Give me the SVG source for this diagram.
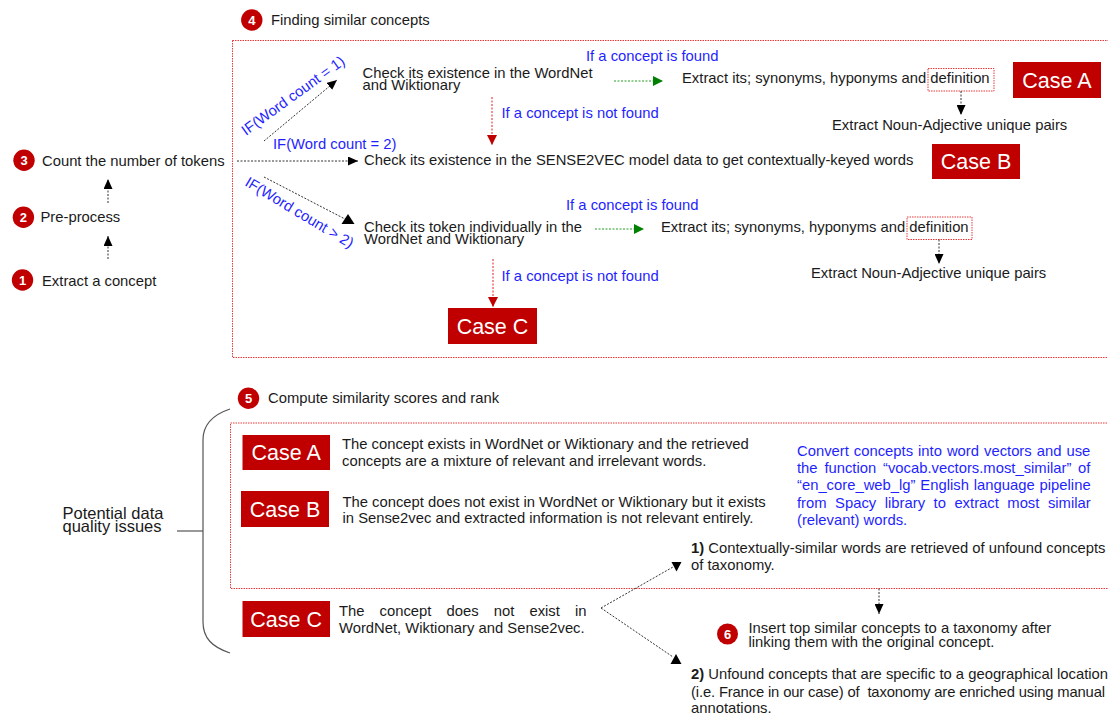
<svg xmlns="http://www.w3.org/2000/svg" width="1108" height="720" viewBox="0 0 1108 720">
<defs>
<style>
text { font-family: "Liberation Sans", Arial, sans-serif; font-size: 14.8px; fill: #1a1a1a; }
.blue { fill: #1f1fff; }
.case { fill: #ffffff; font-size: 21.5px; text-anchor: middle; }
.casebox { fill: #c00000; }
.num { fill: #ffffff; font-weight: bold; font-size: 13px; text-anchor: middle; }
.dot { fill: #c00000; }
.frame { fill: none; stroke: #e83a3a; stroke-width: 1; stroke-dasharray: 1.5 1; }
.conn { fill: none; stroke: #333333; stroke-width: 1; stroke-dasharray: 2 1.5; }
.conn.red { stroke: #e02020; }
.conn.green { stroke: #22a022; }
.brace { fill: none; stroke: #555555; stroke-width: 1.2; }
.head { fill: #000000; }
</style>
<marker id="ab" viewBox="0 0 10 10" refX="10" refY="5" markerWidth="10" markerHeight="9" markerUnits="userSpaceOnUse" orient="auto" preserveAspectRatio="none"><path d="M0,0 L10,5 L0,10 z" fill="#000000"/></marker>
<marker id="ar" viewBox="0 0 10 10" refX="10" refY="5" markerWidth="10" markerHeight="10" markerUnits="userSpaceOnUse" orient="auto" preserveAspectRatio="none"><path d="M0,0 L10,5 L0,10 z" fill="#c00000"/></marker>
<marker id="ag" viewBox="0 0 10 10" refX="10" refY="5" markerWidth="10" markerHeight="10" markerUnits="userSpaceOnUse" orient="auto" preserveAspectRatio="none"><path d="M0,0 L10,5 L0,10 z" fill="#008000"/></marker>
</defs>
<rect x="0" y="0" width="1108" height="720" fill="#ffffff"/>

<g id="step1">
<circle class="dot" cx="22.5" cy="280" r="10.7"/>
<text class="num" x="22.5" y="284.7">1</text>
<text x="42" y="285.5">Extract a concept</text>
</g>
<g id="step2">
<circle class="dot" cx="23.4" cy="217.3" r="10.7"/>
<text class="num" x="23.4" y="222">2</text>
<text x="40.5" y="222">Pre-process</text>
</g>
<g id="step3">
<circle class="dot" cx="24" cy="160.3" r="10.7"/>
<text class="num" x="24" y="165">3</text>
<text x="42" y="165.5">Count the number of tokens</text>
</g>

<g id="step4">
<rect class="frame" x="232.5" y="40.5" width="880" height="317"/>
<circle class="dot" cx="251.8" cy="20" r="10.7"/>
<text class="num" x="251.8" y="24.7">4</text>
<text x="271" y="25">Finding similar concepts</text>
</g>

<g id="check-wordnet">
<text x="362.5" y="77.5">Check its existence in the WordNet<tspan x="362.5" dy="12.5">and Wiktionary</tspan></text>
</g>
<g id="check-sense2vec">
<text x="364" y="164.5">Check its existence in the SENSE2VEC model data to get contextually-keyed words</text>
</g>
<g id="check-tokens">
<text x="364" y="231.5">Check its token individually in the<tspan x="364" dy="12.5">WordNet and Wiktionary</tspan></text>
</g>
<g id="extract-1">
<text x="682" y="83">Extract its; synonyms, hyponyms and definition</text>
<rect class="frame" x="928" y="68.5" width="66" height="22.5"/>
</g>
<g id="pairs-1">
<text x="832" y="130">Extract Noun-Adjective unique pairs</text>
</g>
<g id="extract-2">
<text x="661" y="232">Extract its; synonyms, hyponyms and definition</text>
<rect class="frame" x="907" y="217" width="65" height="22.5"/>
</g>
<g id="pairs-2">
<text x="811" y="278">Extract Noun-Adjective unique pairs</text>
</g>
<g id="caseA-top">
<rect class="casebox" x="1013" y="62" width="88" height="36"/>
<text class="case" x="1057" y="87.7">Case A</text>
</g>
<g id="caseB-top">
<rect class="casebox" x="932" y="144" width="88" height="35"/>
<text class="case" x="976" y="169.2">Case B</text>
</g>
<g id="caseC-top">
<rect class="casebox" x="448" y="308" width="89" height="36"/>
<text class="case" x="492.5" y="333.7">Case C</text>
</g>

<g id="step5">
<circle class="dot" cx="248.5" cy="398.3" r="10.7"/>
<text class="num" x="248.5" y="403">5</text>
<text x="268" y="403.3">Compute similarity scores and rank</text>
<rect class="frame" x="230.5" y="423" width="882" height="165.5"/>
</g>
<g id="issues">
<text x="62.5" y="518.5" style="font-size:16.5px">Potential data<tspan x="62.5" dy="13">quality issues</tspan></text>
<path class="brace" d="M230,409 C212,415 203,425 203,440 L203,622 C203,638 212,647 230,653"/>
<path class="brace" d="M177,531 L203,531"/>
</g>
<g id="caseA-issue">
<rect class="casebox" x="242.5" y="435" width="87.5" height="35"/>
<text class="case" x="286.2" y="460.2">Case A</text>
<text x="342" y="449">The concept exists in WordNet or Wiktionary and the retrieved<tspan x="342" dy="17">concepts are a mixture of relevant and irrelevant words.</tspan></text>
</g>
<g id="caseB-issue">
<rect class="casebox" x="241" y="491" width="88" height="36"/>
<text class="case" x="285" y="516.7">Case B</text>
<text x="342.5" y="506.5">The concept does not exist in WordNet or Wiktionary but it exists<tspan x="342.5" dy="16.8">in Sense2vec and extracted information is not relevant entirely.</tspan></text>
</g>
<g id="caseC-issue">
<rect class="casebox" x="242.5" y="601" width="87.5" height="36"/>
<text class="case" x="286.2" y="626.7">Case C</text>
<text x="339" y="616"><tspan word-spacing="11">The concept does not exist in</tspan><tspan x="339" dy="17.3">WordNet, Wiktionary and Sense2vec.</tspan></text>
</g>
<g id="vectors">
<text class="blue" x="797" y="456"><tspan word-spacing="0.9">Convert concepts into word vectors and use</tspan><tspan x="797" dy="17.2" word-spacing="2.7">the function “vocab.vectors.most_similar” of</tspan><tspan x="797" dy="17.2" word-spacing="0.8">“en_core_web_lg” English language pipeline</tspan><tspan x="797" dy="17.2" word-spacing="4.4">from Spacy library to extract most similar</tspan><tspan x="797" dy="17.2">(relevant) words.</tspan></text>
</g>
<g id="option1">
<text x="691" y="552.5"><tspan font-weight="bold">1)</tspan> Contextually-similar words are retrieved of unfound concepts<tspan x="691" dy="17.5">of taxonomy.</tspan></text>
</g>
<g id="step6">
<circle class="dot" cx="727.5" cy="634" r="10.5"/>
<text class="num" x="727.5" y="638.7">6</text>
<text x="748.5" y="633">Insert top similar concepts to a taxonomy after<tspan x="748.5" dy="13.5">linking them with the original concept.</tspan></text>
</g>
<g id="option2">
<text x="691" y="679" style="white-space:pre"><tspan font-weight="bold">2)</tspan> Unfound concepts that are specific to a geographical location<tspan x="691" dy="17.5" textLength="414" lengthAdjust="spacing">(i.e. France in our case) of  taxonomy are enriched using manual</tspan><tspan x="691" dy="16.5">annotations.</tspan></text>
</g>

<g id="connectors">
<path class="conn" d="M108,259 L108,236" marker-end="url(#ab)"/>
<path class="conn" d="M108,203 L108,179" marker-end="url(#ab)"/>
<path class="conn" d="M237,161 L358,161" marker-end="url(#ab)"/>
<path class="conn" d="M264,141 L337,80" marker-end="url(#ab)"/>
<path class="conn" d="M264,177 L345,219"/>
<polygon class="head" points="348,214 341.5,224 354.5,224"/>
<path class="conn red" d="M492,97 L492,145" marker-end="url(#ar)"/>
<path class="conn red" d="M493,259 L493,307" marker-end="url(#ar)"/>
<path class="conn green" d="M614,81 L663,81" marker-end="url(#ag)"/>
<path class="conn green" d="M595,229 L644,229" marker-end="url(#ag)"/>
<path class="conn" d="M961,91 L961,115" marker-end="url(#ab)"/>
<path class="conn" d="M939,239.5 L939,264" marker-end="url(#ab)"/>
<path class="conn" d="M879,588.5 L879,614" marker-end="url(#ab)"/>
<path class="conn" d="M601,608 L673,567"/>
<polygon class="head" points="671.5,562 681.5,562 676.5,571.5"/>
<path class="conn" d="M601,608 L673,657"/>
<polygon class="head" points="676,654 670.5,664 681.5,664"/>
<text class="blue" x="273" y="149">IF(Word count = 2)</text>
<text class="blue" transform="translate(246,136) rotate(-36)">IF(Word count = 1)</text>
<text class="blue" transform="translate(244,185) rotate(31)">IF(Word count &gt; 2)</text>
<text class="blue" x="586" y="61">If a concept is found</text>
<text class="blue" x="566" y="209.5">If a concept is found</text>
<text class="blue" x="501.5" y="117.5">If a concept is not found</text>
<text class="blue" x="501.5" y="281">If a concept is not found</text>
</g>
</svg>
